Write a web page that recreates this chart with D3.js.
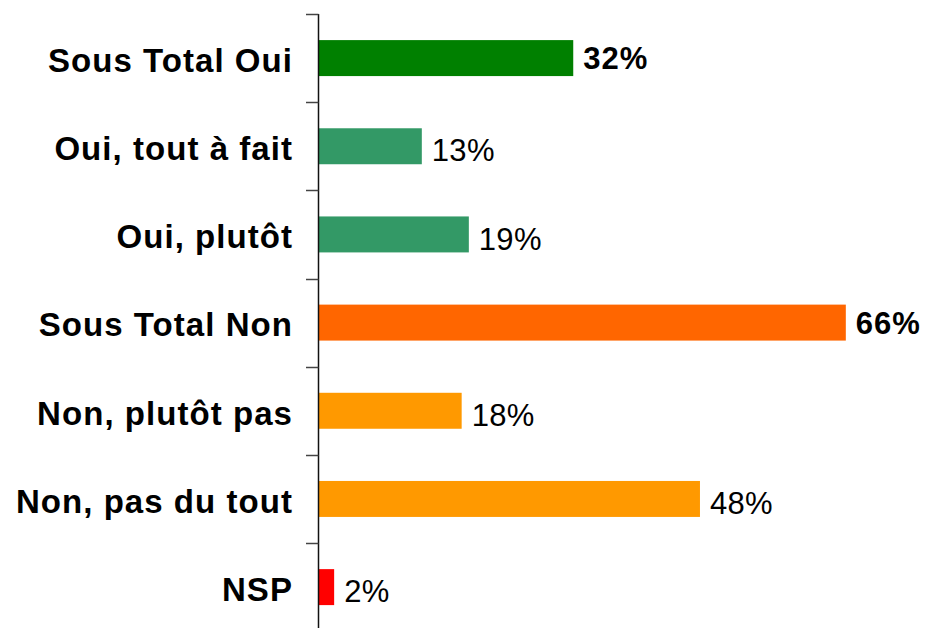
<!DOCTYPE html>
<html>
<head>
<meta charset="utf-8">
<script src="https://cdn.jsdelivr.net/npm/d3@7"></script>
<style>
  html, body { margin: 0; padding: 0; background: #fff; }
  svg { display: block; }
</style>
</head>
<body>
<svg id="chart" width="925" height="628"></svg>
<script>
const categories = ["Sous Total Oui", "Oui, tout à fait", "Oui, plutôt", "Sous Total Non", "Non, plutôt pas", "Non, pas du tout", "NSP"];
const values = [31.9, 12.9, 18.8, 66.1, 17.9, 47.8, 1.9];
const valueLabels = ["32%", "13%", "19%", "66%", "18%", "48%", "2%"];
const isTotal = [true, false, false, true, false, false, false];
const colors = ["#008000", "#339966", "#339966", "#FF6600", "#FF9900", "#FF9900", "#FF0000"];

const svg = d3.select("#chart");
const axisX = 318.5;
const x = d3.scaleLinear().domain([0, 70]).range([319, 319 + 70 * 7.97]);
const y = d3.scaleBand().domain(categories).range([14, 631.2]).paddingInner(0.592).paddingOuter(0.296);

// bars
svg.selectAll("rect.bar").data(categories).join("rect")
  .attr("class", "bar")
  .attr("x", x(0))
  .attr("y", d => y(d))
  .attr("width", (d, i) => x(values[i]) - x(0))
  .attr("height", y.bandwidth())
  .attr("fill", (d, i) => colors[i]);

// axis line
svg.append("line")
  .attr("x1", axisX).attr("x2", axisX)
  .attr("y1", 14).attr("y2", 628)
  .attr("stroke", "#111").attr("stroke-width", 1.5);

// ticks at band boundaries
const step = y.step();
const tickYs = d3.range(categories.length).map(i => 14 + i * step);
svg.selectAll("line.tick").data(tickYs).join("line")
  .attr("class", "tick")
  .attr("x1", 306).attr("x2", axisX)
  .attr("y1", d => Math.round(d) + 0.5).attr("y2", d => Math.round(d) + 0.5)
  .attr("stroke", "#444").attr("stroke-width", 1.5);

// category labels
svg.selectAll("text.cat").data(categories).join("text")
  .attr("class", "cat")
  .attr("x", 293)
  .attr("y", d => y(d) + y.bandwidth() / 2 + 2)
  .attr("dy", "0.36em")
  .attr("text-anchor", "end")
  .attr("font-family", "Liberation Sans, Arial, sans-serif")
  .attr("font-weight", "bold")
  .attr("font-size", 33)
  .attr("letter-spacing", "1.05px")
  .attr("fill", "#000")
  .text(d => d);

// value labels
svg.selectAll("text.val").data(categories).join("text")
  .attr("class", "val")
  .attr("x", (d, i) => x(values[i]) + 10)
  .attr("y", (d, i) => y(d) + y.bandwidth() / 2 + (isTotal[i] ? 0 : 4))
  .attr("dy", "0.36em")
  .attr("font-family", "Liberation Sans, Arial, sans-serif")
  .attr("font-weight", (d, i) => isTotal[i] ? "bold" : "normal")
  .attr("font-size", 31)
  .attr("letter-spacing", (d, i) => isTotal[i] ? "1px" : "0.3px")
  .attr("fill", "#000")
  .text((d, i) => valueLabels[i]);
</script>
</body>
</html>
